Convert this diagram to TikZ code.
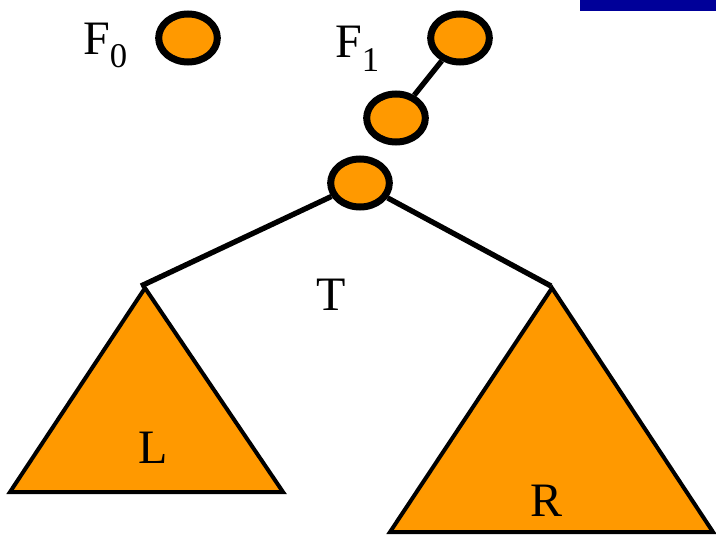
\documentclass[tikz,border=0pt]{standalone}
\usepackage{fontspec}
\setmainfont{Liberation Serif}
\usetikzlibrary{positioning,shapes.geometric}
\definecolor{knot}{HTML}{FF9900}
\definecolor{linkblau}{HTML}{000099}
\newcommand\unten[1]{\raisebox{-9.75pt}{\fontsize{26}{30}\selectfont #1}}
\tikzset{
  knoten/.style={ellipse,draw,line width=5.25pt,fill=knot,inner sep=0pt,
                 minimum width=44pt,minimum height=36pt},
  kante/.style={line width=4pt},
  baum/.style={draw,fill=knot,line width=3pt,line join=miter},
  schrift/.style={inner sep=0pt,anchor=base,font=\fontsize{36}{40}\selectfont},
}

\begin{document}
\begin{tikzpicture}[x=0.75pt,y=-0.75pt]
  \useasboundingbox (0,0) rectangle (716,535);
  \fill[linkblau] (580,0) rectangle (716,11);
  % Wald F0 und F1
  \node[schrift,anchor=base west] (f0) at (83,55) {F\unten{0}};
  \node[knoten] (a) at (188,38) {};
  \node[schrift,anchor=base west] (f1) at (335,58) {F\unten{1}};
  \node[knoten] (b) at (460,38) {};
  \node[knoten] (c) at (396,118) {};
  \node[knoten] (w) at (360,183) {};
  \draw[kante] (b) -- (c);
  % Baum T
  \coordinate (lende) at (141,286);
  \coordinate (rende) at (551,286);
  \draw[baum] (145,288) -- (10,492) -- (283,492) -- cycle;
  \draw[baum] (552,288) -- (390,532) -- (713,532) -- cycle;
  \draw[kante] (w) -- (lende);
  \draw[kante] (w) -- (rende);
  \node[schrift] (t) at (331,310) {T};
  \node[schrift] (l) at (153,463) {L};
  \node[schrift] (r) at (546,516) {R};
\end{tikzpicture}
\end{document}
